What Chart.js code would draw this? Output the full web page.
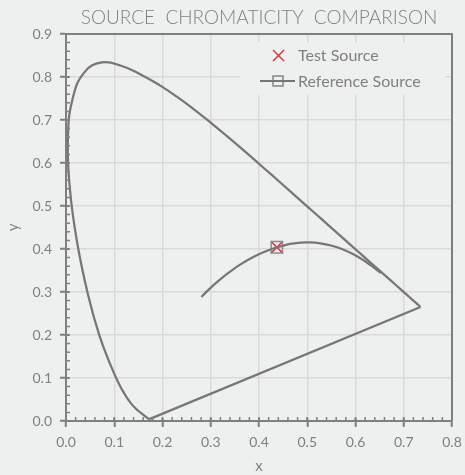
<!DOCTYPE html>
<html>
<head>
<meta charset="utf-8">
<script src="https://cdn.jsdelivr.net/npm/chart.js@4.4.1/dist/chart.umd.min.js"></script>
<style>
  html, body { margin: 0; padding: 0; background: #eef0ef; }
  #wrap { width: 465px; height: 475px; }
</style>
</head>
<body>
<div id="wrap"><canvas id="cie"></canvas></div>
<script>
// CIE 1931 spectral locus, 380-700 nm
var locusX = [0.1741, 0.1738, 0.1733, 0.1726, 0.1714, 0.1703, 0.1689, 0.1669, 0.1644, 0.1611, 0.1566, 0.1510, 0.1440, 0.1355, 0.1241, 0.1096, 0.0913, 0.0687, 0.0454, 0.0235, 0.0082, 0.0039, 0.0139, 0.0389, 0.0743, 0.1142, 0.1547, 0.1929, 0.2296, 0.2658, 0.3016, 0.3373, 0.3731, 0.4087, 0.4441, 0.4788, 0.5125, 0.5448, 0.5752, 0.6029, 0.6270, 0.6482, 0.6658, 0.6801, 0.6915, 0.7006, 0.7079, 0.7140, 0.7190, 0.7230, 0.7260, 0.7300, 0.7320, 0.7334, 0.7347]
var locusY = [0.0050, 0.0049, 0.0048, 0.0048, 0.0051, 0.0058, 0.0069, 0.0086, 0.0109, 0.0138, 0.0177, 0.0227, 0.0297, 0.0399, 0.0578, 0.0868, 0.1327, 0.2007, 0.2950, 0.4127, 0.5384, 0.6548, 0.7502, 0.8120, 0.8338, 0.8262, 0.8059, 0.7816, 0.7543, 0.7243, 0.6923, 0.6589, 0.6245, 0.5896, 0.5547, 0.5202, 0.4866, 0.4544, 0.4242, 0.3965, 0.3725, 0.3514, 0.3340, 0.3197, 0.3083, 0.2993, 0.2920, 0.2859, 0.2809, 0.2770, 0.2740, 0.2700, 0.2680, 0.2666, 0.2653]

// line of purples (red end back to blue end)
var purpleX = [0.7347, 0.1741]
var purpleY = [0.2653, 0.0050]

// Planckian locus, 1000 K .. 10000 K
var planckX = [0.6528, 0.6251, 0.5985, 0.5732, 0.5493, 0.5267, 0.5056, 0.4862, 0.4685, 0.4526, 0.4369, 0.4053, 0.3805, 0.3608, 0.3451, 0.3325, 0.3221, 0.3135, 0.3064, 0.2952, 0.2869, 0.2807]
var planckY = [0.3444, 0.3674, 0.3858, 0.3993, 0.4082, 0.4133, 0.4152, 0.4147, 0.4123, 0.4086, 0.4041, 0.3907, 0.3768, 0.3636, 0.3516, 0.3411, 0.3318, 0.3237, 0.3166, 0.3048, 0.2956, 0.2884]

var testSource = [0.437, 0.404]
var refSource = [0.437, 0.404]

var xTicks = [0, 0.1, 0.2, 0.3, 0.4, 0.5, 0.6, 0.7, 0.8]
var yTicks = [0, 0.1, 0.2, 0.3, 0.4, 0.5, 0.6, 0.7, 0.8, 0.9]

var titleText = "SOURCE  CHROMATICITY  COMPARISON"

function pts(xs, ys) {
  var out = []
  for (var i = 0; i < xs.length; i++) out.push({ x: xs[i], y: ys[i] })
  return out
}

var grey = "#7f7f7f"
var curve = "#767676"
var red = "#e8262d"

// titlu, chenar, tick-uri minore si legenda
var decor = {
  id: "decor",
  afterDatasetsDraw: function (chart) {
    var ctx = chart.ctx
    var a = chart.chartArea
    var sx = chart.scales.x, sy = chart.scales.y
    ctx.save()
    // top + right border
    ctx.strokeStyle = grey
    ctx.lineWidth = 2
    ctx.beginPath()
    ctx.moveTo(a.left, a.top); ctx.lineTo(a.right, a.top); ctx.lineTo(a.right, a.bottom)
    ctx.stroke()
    // minor ticks
    ctx.lineWidth = 1.5
    ctx.beginPath()
    for (var v = 0.02; v < 0.8; v += 0.02) {
      var px = sx.getPixelForValue(v)
      ctx.moveTo(px, a.bottom); ctx.lineTo(px, a.bottom - 4)
    }
    for (var w = 0.02; w < 0.9; w += 0.02) {
      var py = sy.getPixelForValue(w)
      ctx.moveTo(a.left, py); ctx.lineTo(a.left + 4, py)
    }
    ctx.stroke()
    // major ticks crossing inward a bit
    ctx.lineWidth = 2
    ctx.beginPath()
    xTicks.forEach(function (t) { var p = sx.getPixelForValue(t); ctx.moveTo(p, a.bottom); ctx.lineTo(p, a.bottom - 3) })
    yTicks.forEach(function (t) { var p = sy.getPixelForValue(t); ctx.moveTo(a.left, p); ctx.lineTo(a.left + 3, p) })
    ctx.stroke()

    // legend box
    var lx = 240, ly = 42
    ctx.fillStyle = "#eef0ef"
    ctx.fillRect(lx, ly, 205, 53)
    var ds = chart.data.datasets
    ctx.font = "16px Lato"
    ctx.textBaseline = "middle"
    ctx.fillStyle = grey
    // test source
    ctx.strokeStyle = red
    ctx.lineWidth = 1.4
    ctx.beginPath()
    ctx.moveTo(273, 50); ctx.lineTo(284, 61); ctx.moveTo(284, 50); ctx.lineTo(273, 61)
    ctx.stroke()
    ctx.fillText(ds[4].label, 298, 56)
    // reference source
    ctx.strokeStyle = curve
    ctx.lineWidth = 2
    ctx.beginPath(); ctx.moveTo(260, 81); ctx.lineTo(295, 81); ctx.stroke()
    ctx.lineWidth = 1.3
    ctx.strokeRect(273, 76, 10, 10)
    ctx.fillText(ds[3].label, 298, 82)

    // title
    ctx.font = "300 19px Lato"
    ctx.textAlign = "center"
    ctx.fillStyle = grey
    ctx.fillText(titleText, (a.left + a.right) / 2, 18)
    ctx.restore()
  }
}

new Chart(document.getElementById("cie"), {
  type: "scatter",
  data: {
    datasets: [
      { label: "Spectral Locus", data: pts(locusX, locusY), showLine: true, borderColor: curve, borderWidth: 2.25, pointRadius: 0, tension: 0.45 },
      { label: "Purple Line", data: pts(purpleX, purpleY), showLine: true, borderColor: curve, borderWidth: 2.25, pointRadius: 0 },
      { label: "Planckian Locus", data: pts(planckX, planckY), showLine: true, borderColor: curve, borderWidth: 2.25, pointRadius: 0, tension: 0.3 },
      { label: "Reference Source", data: [{ x: refSource[0], y: refSource[1] }], pointStyle: "rect", pointRadius: 8, borderColor: "#8c8c8c", backgroundColor: "rgba(0,0,0,0)", borderWidth: 1.5 },
      { label: "Test Source", data: [{ x: testSource[0], y: testSource[1] }], pointStyle: "crossRot", pointRadius: 8.5, borderColor: red, borderWidth: 1.5 },
    ],
  },
  options: {
    responsive: true,
    maintainAspectRatio: false,
    animation: false,
    layout: { padding: { top: 34, right: 13, left: 0, bottom: 0 } },
    plugins: { legend: { display: false }, title: { display: false }, tooltip: { enabled: false } },
    scales: {
      x: {
        type: "linear",
        min: 0,
        max: 0.8,
        afterBuildTicks: function (s) { s.ticks = xTicks.map(function (v) { return { value: v } }) },
        afterFit: function (s) { s.height = 54; s.paddingLeft = 0; s.paddingRight = 0 },
        ticks: { callback: function (v) { return v.toFixed(1) }, color: grey, font: { family: "Lato", size: 14 }, padding: 7 },
        grid: { color: "#d9d9d9", lineWidth: 1.5, tickColor: grey, tickWidth: 2, tickLength: 6 },
        border: { color: grey, width: 2 },
        title: { display: true, text: "x", color: grey, font: { family: "Lato", size: 15 }, padding: { top: 2, bottom: 0 } },
      },
      y: {
        type: "linear",
        min: 0,
        max: 0.9,
        afterBuildTicks: function (s) { s.ticks = yTicks.map(function (v) { return { value: v } }) },
        afterFit: function (s) { s.width = 66; s.paddingTop = 0; s.paddingBottom = 0 },
        ticks: { callback: function (v) { return v.toFixed(1) }, color: grey, font: { family: "Lato", size: 14 }, padding: 8 },
        grid: { color: "#d9d9d9", lineWidth: 1.5, tickColor: grey, tickWidth: 2, tickLength: 6 },
        border: { color: grey, width: 2 },
        title: { display: true, text: "y", color: grey, font: { family: "Lato", size: 15 }, padding: 4 },
      },
    },
  },
  plugins: [decor],
})
</script>
</body>
</html>
